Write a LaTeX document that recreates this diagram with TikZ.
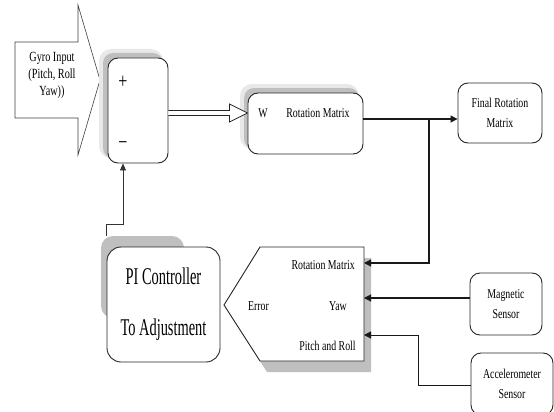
\documentclass[tikz,border=0pt]{standalone}
\usepackage{fontspec}
\setmainfont{Liberation Serif}[FakeStretch=0.73]
\newfontfamily\pifont{Liberation Serif}[FakeStretch=0.6]
\usetikzlibrary{calc,arrows.meta}
\begin{document}
\begin{tikzpicture}[x=1pt,y=-1pt,
  box/.style={draw=black!85, line width=0.9pt, rounded corners=10pt, fill=white, inner sep=0pt, align=center, font=\fontsize{13.5}{20.5}\selectfont},
  shadebox/.style={fill=gray!50, draw=none, rounded corners=10pt, inner sep=0pt},
  halo/.style={fill=gray!18, draw=none, rounded corners=12pt, inner sep=0pt},
  conn/.style={draw=black!90, line width=1.2pt, -{Triangle[length=7pt,width=7pt]}},
  thin/.style={draw=black!80, line width=0.8pt, -{Triangle[length=7pt,width=6pt]}},
  lbl/.style={font=\fontsize{13.5}{14}\selectfont, inner sep=0pt}
]
\clip (0,0) rectangle (554,412);
\fill[white] (0,0) rectangle (554,412);

% Gyro input arrow
\draw[black!75, line width=0.6pt, fill=white] (15,42) -- (78,42) -- (78,5) -- (100,80) -- (78,155) -- (78,118) -- (15,118) -- cycle;
\node[lbl, align=center, font=\fontsize{14}{17}\selectfont] (gyro) at (52,75) {Gyro Input\\(Pitch, Roll\\Yaw))};

% Summing box
\node[halo, minimum width=64pt, minimum height=109pt] (sumh) at (131,103.5) {};
\node[shadebox, minimum width=60pt, minimum height=105pt] (sumsh) at (133,105.5) {};
\node[box, minimum width=60pt, minimum height=105pt] (sum) at (138,110.5) {};
\node[lbl, font=\fontsize{22}{22}\selectfont] (plus) at (123,82.5) {+};
\node[lbl, font=\fontsize{22}{22}\selectfont] (minus) at (123,146) {−};

% W / Rotation Matrix box
\node[halo, minimum width=119pt, minimum height=65pt] (wh) at (299.5,116.5) {};
\node[shadebox, minimum width=115pt, minimum height=61pt] (wsh) at (301.5,118.5) {};
\node[box, minimum width=115pt, minimum height=61pt] (wbox) at (305.5,123.5) {};
\node[lbl] (wlab) at (263,113) {W};
\node[lbl] (wrm) at (318,113) {Rotation Matrix};

% Final rotation matrix
\node[box, minimum width=84pt, minimum height=60pt] (final) at (500,113) {Final Rotation\\Matrix};

% Error block
\fill[gray!50] (231,316) -- (267,258) -- (371,258) -- (371,372) -- (267,372) -- cycle;
\draw[black!85, line width=0.9pt, fill=white] (224,305) -- (260,247) -- (364,247) -- (364,361) -- (260,361) -- cycle;
\coordinate (inR) at (364,263);
\coordinate (inY) at (364,298);
\coordinate (inP) at (364,335);
\node[lbl, anchor=east] (erm) at (355,265) {Rotation Matrix};
\node[lbl] (err) at (258.5,306) {Error};
\node[lbl] (yaw) at (338,306) {Yaw};
\node[lbl] (pr) at (327.5,346) {Pitch and Roll};

% PI controller
\node[shadebox, rounded corners=12pt, minimum width=83pt, minimum height=82pt] (pish) at (142.5,277) {};
\node[box, rounded corners=14pt, minimum width=113pt, minimum height=115pt, font=\pifont\fontsize{24}{51}\selectfont] (pi) at (163.5,304.5) {PI Controller\\To Adjustment};

% Sensors
\node[box, minimum width=72pt, minimum height=62pt] (mag) at (506,304) {Magnetic\\Sensor};
\node[box, minimum width=82pt, minimum height=62pt] (acc) at (512,384) {Accelerometer\\Sensor};

% Double (hollow) arrow sum -> W
\coordinate (dy) at (200,113);
\coordinate (ds) at (sum.east |- dy);
\coordinate (de) at (wbox.west |- dy);
\draw[black!85, line width=0.8pt, fill=white, line join=miter]
  ($(ds)+(0,-2.5)$) -- ($(de)+(-18,-2.5)$) -- ($(de)+(-18,-9)$) -- (de)
  -- ($(de)+(-18,9)$) -- ($(de)+(-18,2.5)$) -- ($(ds)+(0,2.5)$);

% Connectors
\coordinate (j) at (429,119);
\draw[conn] (wbox.east |- j) -- (final.west |- j);
\draw[conn] (j) |- (inR);
\draw[conn] (mag.west |- inY) -- (inY);
\coordinate (a1) at (418,385);
\draw[conn, line width=1pt] (acc.west |- a1) -- (a1) |- (inP);

% Feedback
\coordinate (f0) at ($(pish.north west)+(6,0)$);
\draw[thin] (f0) -- ++(0,-11) -| ($(sum.south)+(-15,0)$);
\end{tikzpicture}
\end{document}
